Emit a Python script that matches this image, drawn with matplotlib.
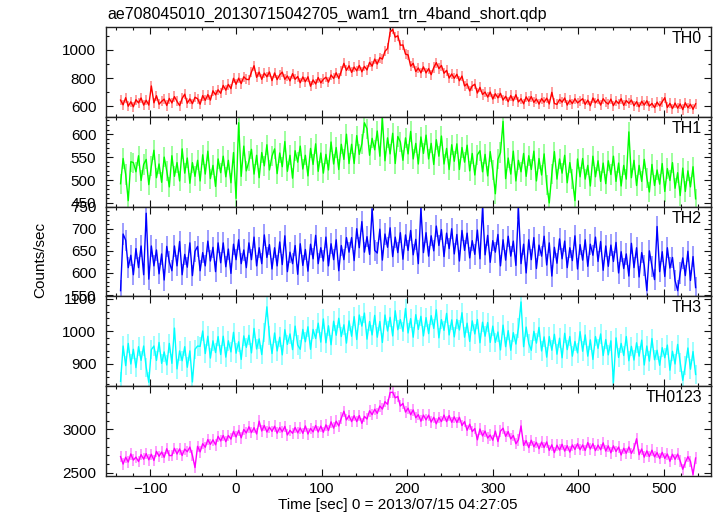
import numpy as np
import matplotlib
matplotlib.use("Agg")
import matplotlib.pyplot as plt
from matplotlib.ticker import MultipleLocator

plt.rcParams['font.family'] = ['Liberation Sans', 'DejaVu Sans']

title = "ae708045010_20130715042705_wam1_trn_4band_short.qdp"
xlabel = "Time [sec] 0 = 2013/07/15 04:27:05"
ylabel = "Counts/sec"
band_names = ["TH0", "TH1", "TH2", "TH3", "TH0123"]
band_colors = ["#ff0000", "#00ff00", "#0000ff", "#00ffff", "#ff00ff"]

t_start = -135.0   # first bin time [s]
t_step = 3.0       # bin spacing [s]

th0 = [645, 612, 662, 602, 633, 598, 648, 625, 660, 610,
       644, 610, 745, 626, 676, 616, 636, 652, 607, 657,
       625, 670, 636, 606, 657, 687, 623, 654, 620, 665,
       655, 616, 677, 643, 684, 645, 711, 682, 718, 693,
       749, 715, 756, 726, 799, 757, 800, 762, 810, 792,
       790, 844, 888, 806, 843, 792, 836, 810, 844, 783,
       837, 790, 824, 843, 792, 816, 781, 832, 792, 812,
       768, 809, 775, 810, 743, 788, 759, 805, 767, 792,
       807, 772, 823, 798, 838, 798, 850, 905, 855, 888,
       841, 879, 852, 890, 845, 884, 858, 912, 885, 935,
       900, 945, 935, 990, 1010, 1125, 1145, 1090, 1100, 1033,
       1035, 970, 965, 885, 905, 847, 872, 838, 880, 837,
       868, 825, 875, 910, 868, 890, 835, 855, 801, 830,
       799, 828, 782, 815, 745, 760, 710, 745, 757, 695,
       735, 685, 702, 666, 702, 653, 690, 661, 693, 645,
       672, 634, 677, 640, 683, 632, 655, 619, 668, 636,
       670, 629, 653, 617, 656, 630, 659, 618, 700, 621,
       615, 650, 630, 660, 610, 645, 620, 655, 625, 640,
       655, 615, 645, 605, 660, 625, 650, 610, 655, 630,
       617, 652, 606, 641, 620, 655, 608, 642, 622, 646,
       605, 634, 598, 637, 610, 640, 603, 622, 592, 631,
       604, 633, 662, 593, 622, 585, 624, 588, 618, 578,
       626, 591, 616, 580, 619]

th1 = [492, 547, 512, 455, 540, 538, 518, 553, 499, 534,
       545, 490, 530, 565, 505, 535, 495, 550, 520, 485,
       553, 508, 538, 498, 568, 515, 548, 493, 538, 508,
       543, 498, 555, 513, 563, 503, 532, 486, 546, 516,
       552, 507, 543, 494, 560, 460, 625, 508, 574, 520,
       541, 567, 513, 554, 505, 560, 531, 577, 522, 552,
       568, 514, 559, 529, 584, 519, 554, 504, 564, 539,
       574, 524, 554, 509, 569, 534, 579, 519, 559, 515,
       556, 522, 583, 535, 571, 523, 578, 545, 600, 536,
       578, 536, 597, 556, 579, 625, 612, 554, 591, 566,
       607, 552, 635, 542, 592, 557, 602, 536, 595, 583,
       543, 592, 557, 606, 546, 580, 535, 594, 558, 598,
       546, 580, 534, 588, 552, 596, 535, 569, 523, 577,
       541, 579, 523, 571, 539, 576, 520, 558, 511, 555,
       564, 518, 556, 509, 562, 521, 470, 545, 560, 628,
       503, 548, 513, 563, 498, 543, 518, 558, 508, 553,
       523, 563, 498, 547, 511, 557, 490, 450, 514, 562,
       502, 546, 515, 554, 494, 538, 502, 455, 546, 507,
       547, 502, 532, 487, 552, 507, 542, 497, 537, 492,
       542, 512, 552, 497, 537, 487, 532, 502, 605, 505,
       543, 488, 532, 497, 545, 505, 474, 534, 488, 522,
       491, 536, 475, 525, 499, 538, 482, 516, 466, 526,
       475, 520, 485, 529, 459]

th2 = [560, 688, 674, 612, 640, 596, 655, 612, 661, 596,
       735, 586, 661, 616, 652, 598, 643, 584, 660, 625,
       605, 661, 616, 671, 596, 642, 613, 668, 594, 649,
       660, 605, 646, 616, 672, 627, 658, 603, 668, 623,
       668, 614, 654, 599, 665, 630, 675, 621, 652, 612,
       668, 630, 681, 616, 657, 621, 686, 635, 664, 609,
       657, 616, 670, 619, 684, 603, 647, 621, 662, 597,
       666, 617, 653, 604, 665, 632, 685, 621, 657, 627,
       681, 616, 666, 630, 675, 605, 662, 630, 680, 647,
       680, 628, 700, 657, 716, 647, 682, 642, 745, 651,
       645, 699, 629, 688, 658, 702, 637, 681, 646, 691,
       631, 686, 651, 696, 641, 676, 621, 746, 646, 691,
       638, 684, 650, 706, 662, 698, 637, 690, 655, 700,
       643, 687, 627, 696, 651, 690, 634, 673, 642, 697,
       632, 747, 641, 685, 624, 673, 647, 687, 616, 675,
       629, 683, 638, 672, 617, 746, 621, 665, 600, 675,
       630, 680, 610, 663, 638, 683, 618, 668, 593, 658,
       622, 677, 632, 672, 612, 657, 628, 684, 609, 664,
       629, 675, 615, 665, 640, 681, 626, 671, 606, 661,
       615, 663, 626, 669, 600, 648, 610, 643, 593, 667,
       612, 657, 591, 646, 617, 560, 650, 615, 585, 705,
       603, 648, 592, 657, 611, 635, 583, 560, 600, 634,
       594, 649, 583, 637, 567]

th3 = [847, 955, 895, 963, 900, 945, 889, 953, 911, 955,
       889, 844, 944, 955, 911, 966, 902, 937, 897, 963,
       902, 1010, 885, 940, 910, 953, 890, 940, 845, 945,
       955, 954, 1001, 932, 985, 918, 971, 935, 984, 929,
       985, 921, 971, 937, 997, 933, 968, 914, 986, 951,
       988, 934, 1009, 946, 977, 929, 997, 1075, 987, 932,
       995, 940, 982, 928, 1005, 960, 992, 944, 1016, 958,
       945, 1006, 968, 1014, 945, 1006, 978, 1025, 967, 1038,
       965, 1017, 959, 1031, 988, 1040, 984, 1020, 964, 1032,
       985, 1045, 975, 1050, 1016, 1056, 976, 1030, 989, 1049,
       982, 1030, 966, 1050, 1001, 1043, 986, 1063, 1005, 1036,
       1000, 1070, 995, 1039, 982, 1051, 1006, 1046, 986, 1042,
       993, 1048, 1009, 1066, 980, 1036, 1003, 1055, 989, 1035,
       983, 1036, 1004, 1057, 982, 1025, 969, 1032, 992, 1036,
       965, 1028, 985, 1027, 966, 1016, 966, 998, 943, 1019,
       953, 1002, 942, 996, 961, 1010, 1090, 953, 1013, 963,
       942, 1000, 964, 1012, 940, 983, 921, 984, 942, 991,
       930, 979, 919, 994, 944, 984, 924, 969, 934, 999,
       939, 989, 924, 974, 914, 984, 948, 992, 926, 975,
       928, 971, 843, 980, 920, 963, 926, 984, 910, 954,
       912, 965, 924, 973, 897, 955, 909, 978, 913, 942,
       896, 950, 919, 958, 881, 939, 900, 960, 904, 850,
       895, 949, 884, 938, 868]

th0123 = [2686, 2600, 2679, 2623, 2717, 2646, 2680, 2629, 2709, 2656,
          2720, 2649, 2713, 2642, 2746, 2690, 2739, 2678, 2777, 2698,
          2698, 2782, 2716, 2775, 2699, 2773, 2742, 2796, 2700, 2560,
          2805, 2741, 2835, 2794, 2883, 2827, 2880, 2822, 2920, 2867,
          2930, 2858, 2930, 2888, 2978, 2913, 2988, 2903, 2999, 2959,
          3030, 2963, 3020, 2948, 3095, 2982, 3045, 2970, 3026, 2977,
          3037, 2957, 3022, 2972, 3035, 2936, 2989, 2955, 3023, 2960,
          3017, 2955, 3040, 2947, 3012, 2971, 3045, 2970, 3038, 2967,
          3052, 2987, 3087, 3015, 3095, 3040, 3130, 3210, 3110, 3160,
          3090, 3158, 3090, 3160, 3070, 3150, 3120, 3215, 3170, 3233,
          3185, 3270, 3235, 3320, 3290, 3425, 3430, 3365, 3380, 3270,
          3300, 3200, 3245, 3170, 3225, 3135, 3170, 3095, 3165, 3110,
          3165, 3085, 3140, 3065, 3137, 3090, 3165, 3090, 3160, 3082,
          3145, 3080, 3140, 3045, 3090, 2990, 3060, 2975, 3010, 2880,
          3005, 2925, 2980, 2900, 2935, 2875, 2980, 2860, 2980, 3014,
          2920, 2975, 2890, 2930, 2835, 2880, 3040, 2815, 2870, 2790,
          2875, 2800, 2851, 2777, 2853, 2792, 2855, 2758, 2822, 2732,
          2818, 2761, 2828, 2750, 2812, 2739, 2821, 2768, 2835, 2765,
          2821, 2757, 2848, 2774, 2835, 2755, 2819, 2765, 2845, 2750,
          2810, 2730, 2810, 2745, 2797, 2705, 2782, 2725, 2797, 2723,
          2780, 2892, 2708, 2774, 2680, 2751, 2687, 2760, 2683, 2732,
          2665, 2735, 2665, 2716, 2632, 2713, 2654, 2715, 2636, 2540,
          2618, 2685, 2632, 2480, 2670]

# typical 1-sigma error per band (counts/sec)
band_errors = [36, 22, 24, 30, 66]

series = [th0, th1, th2, th3, th0123]
ylims = [(527, 1162), (442, 638), (547, 750), (832, 1107), (2462, 3499)]
ymajor = [200, 50, 50, 100, 500]
yminor = [100, 10, 10, 20, 100]
xlim = (-152, 555)

fig = plt.figure(figsize=(7.17, 5.16), dpi=100)
gs = fig.add_gridspec(5, 1, left=106/717, right=711/717,
                      top=1-27/516, bottom=1-476/516, hspace=0)
axes = [fig.add_subplot(gs[i]) for i in range(5)]

for i, ax in enumerate(axes):
    y = np.asarray(series[i], dtype=float)
    t = t_start + t_step * np.arange(len(y))
    c = band_colors[i]
    e = band_errors[i]
    ax.vlines(t, y - e, y + e, color=c, alpha=0.45, lw=1.2, zorder=1)
    ax.plot(t, y, color=c, lw=1.0, zorder=2)
    ax.set_xlim(*xlim)
    ax.set_ylim(*ylims[i])
    ax.xaxis.set_major_locator(MultipleLocator(100))
    ax.xaxis.set_minor_locator(MultipleLocator(20))
    ax.yaxis.set_major_locator(MultipleLocator(ymajor[i]))
    ax.yaxis.set_minor_locator(MultipleLocator(yminor[i]))
    ax.tick_params(which='both', direction='in', top=True, right=True,
                   width=0.8, color='#111111', labelsize=11)
    ax.tick_params(which='major', length=5)
    ax.tick_params(which='minor', length=2.5)
    ax.tick_params(axis='y', pad=7)
    ax.tick_params(axis='x', pad=4.5)
    if i < 4:
        ax.tick_params(axis='x', labelbottom=False)
    for s in ax.spines.values():
        s.set_linewidth(1.0)
        s.set_color('#222222')
    ax.text(0.985, 0.955, band_names[i], transform=ax.transAxes,
            ha='right', va='top', fontsize=11.5)

fig.text(107/717, 1-14/516, title, ha='left', va='center', fontsize=11.5)
fig.text(40/717, 1-260/516, ylabel, rotation=90, ha='center', va='center',
         fontsize=11)
fig.text(398/717, 1-505/516, xlabel, ha='center', va='center', fontsize=11)

fig.savefig("out.png", dpi=100)
